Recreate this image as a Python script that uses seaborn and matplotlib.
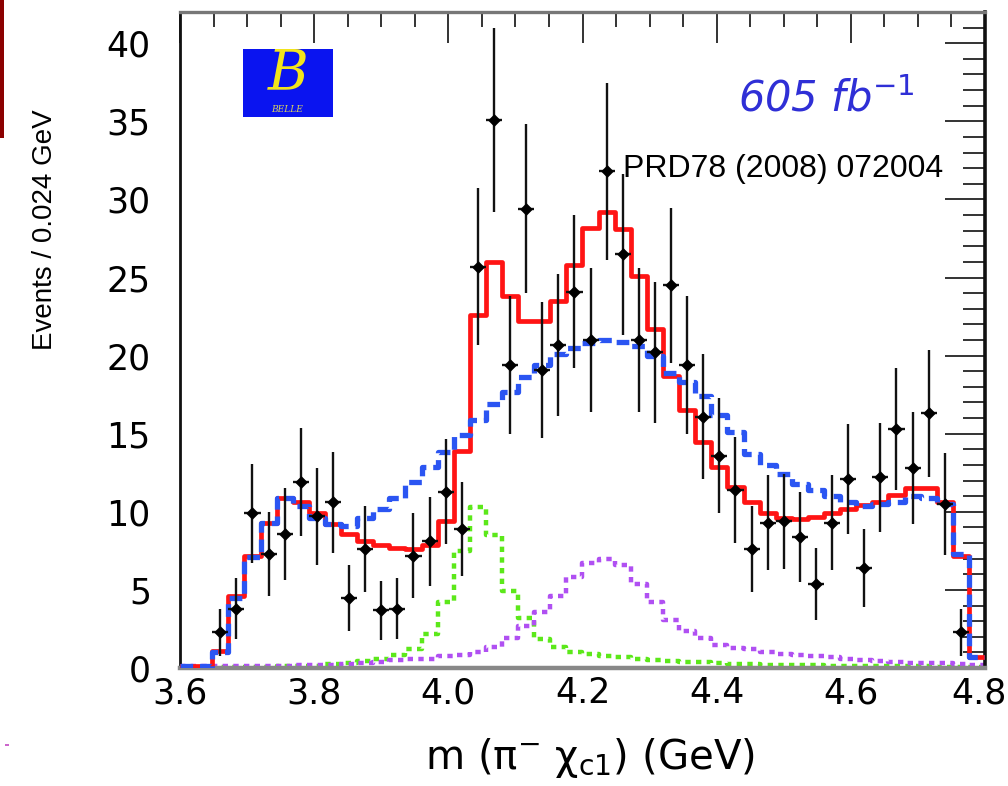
import numpy as np
import pandas as pd
import matplotlib
matplotlib.use("Agg")
import matplotlib.pyplot as plt
import matplotlib.transforms as mtransforms
from matplotlib.ticker import MultipleLocator
from matplotlib.patches import Rectangle
import seaborn as sns

# ------------------------------------------------------------------ data
mass_min = 3.6          # GeV
bin_width = 0.024       # GeV  (Events / 0.024 GeV)
n_bins = 50

nan = np.nan
data_counts = [nan, nan, 2.3, 3.8, 9.9, 7.3, 8.6, 11.9, 9.7, 10.6,
               4.5, 7.6, 3.7, 3.8, 7.2, 8.1, 11.3, 8.9, 25.7, 35.1,
               19.4, 29.4, 19.1, 20.7, 24.1, 21.0, 31.8, 26.5, 21.0, 20.2,
               24.5, 19.4, 16.1, 13.6, 11.4, 7.6, 9.3, 9.4, 8.4, 5.4,
               9.3, 12.1, 6.4, 12.2, 15.3, 12.8, 16.3, 10.5, 2.3, nan]
data_errors = [nan, nan, 1.5, 1.95, 3.15, 2.7, 2.95, 3.45, 3.1, 3.25,
               2.1, 2.75, 1.9, 1.95, 2.7, 2.85, 3.35, 3.0, 5.05, 5.9,
               4.4, 5.4, 4.35, 4.55, 4.9, 4.6, 5.65, 5.15, 4.6, 4.5,
               4.95, 4.4, 4.0, 3.7, 3.4, 2.75, 3.05, 3.05, 2.9, 2.3,
               3.05, 3.5, 2.5, 3.5, 3.9, 3.6, 4.05, 3.25, 1.5, nan]

fit_total = [0.15, 0.15, 1.1, 4.6, 7.2, 9.3, 10.9, 10.6, 9.9, 9.2,
             8.6, 8.1, 7.9, 7.7, 7.6, 7.9, 9.4, 13.9, 22.6, 26.0,
             23.8, 22.2, 22.2, 23.5, 25.8, 28.2, 29.2, 28.1, 25.1, 21.7,
             18.7, 16.5, 14.5, 12.9, 11.6, 10.6, 9.95, 9.6, 9.55, 9.65,
             9.95, 10.15, 10.45, 10.6, 11.05, 11.55, 11.55, 10.6, 7.2, 0.7]

fit_no_z = [0.15, 0.15, 1.0, 4.5, 7.1, 9.3, 10.9, 10.4, 9.6, 9.2,
            9.1, 9.6, 10.2, 10.9, 11.9, 12.9, 13.8, 14.9, 15.9, 16.9,
            17.7, 18.6, 19.4, 20.1, 20.5, 20.8, 21.0, 20.9, 20.6, 20.0,
            18.9, 18.3, 17.4, 16.2, 15.1, 13.7, 13.0, 12.4, 11.8, 11.4,
            11.0, 10.6, 10.4, 10.5, 10.6, 11.0, 10.9, 10.5, 7.3, 0.7]

z1_signal = [0.02, 0.03, 0.04, 0.05, 0.06, 0.08, 0.1, 0.12, 0.16, 0.25,
             0.35, 0.45, 0.6, 0.85, 1.2, 2.2, 4.2, 7.5, 10.3, 8.5,
             4.9, 3.2, 1.85, 1.35, 1.05, 0.9, 0.75, 0.68, 0.6, 0.52,
             0.45, 0.4, 0.36, 0.32, 0.28, 0.25, 0.22, 0.2, 0.18, 0.17,
             0.15, 0.14, 0.13, 0.12, 0.11, 0.1, 0.1, 0.09, 0.08, 0.08]

z2_signal = [0.1, 0.1, 0.12, 0.13, 0.14, 0.15, 0.16, 0.17, 0.18, 0.2,
             0.25, 0.3, 0.4, 0.5, 0.55, 0.6, 0.75, 0.85, 1.0, 1.35,
             1.9, 2.7, 3.6, 4.6, 5.8, 6.7, 7.0, 6.6, 5.4, 4.2,
             3.1, 2.4, 1.9, 1.5, 1.3, 1.2, 1.05, 0.9, 0.85, 0.75,
             0.7, 0.6, 0.5, 0.45, 0.4, 0.35, 0.35, 0.3, 0.25, 0.2]

x_tick_values = [3.6, 3.8, 4.0, 4.2, 4.4, 4.6, 4.8]
x_tick_labels = ["3.6", "3.8", "4.0", "4.2", "4.4", "4.6", "4.8"]
y_tick_values = [0, 5, 10, 15, 20, 25, 30, 35, 40]
y_tick_labels = ["0", "5", "10", "15", "20", "25", "30", "35", "40"]

edges = (mass_min + bin_width * np.arange(n_bins + 1)).tolist()
centers = [0.5 * (a + b) for a, b in zip(edges[:-1], edges[1:])]

df = pd.DataFrame({
    "mass": centers,
    "data": data_counts,
    "err": data_errors,
    "total": fit_total,
    "nores": fit_no_z,
    "z1": z1_signal,
    "z2": z2_signal,
})

# ------------------------------------------------------------------ style
sns.set_style("white")
plt.rcParams["font.family"] = ["DejaVu Sans"]
plt.rcParams["mathtext.fontset"] = "dejavusans"
plt.rcParams["mathtext.default"] = "regular"
for key in ("text.color", "axes.labelcolor", "xtick.color", "ytick.color"):
    plt.rcParams[key] = "black"

W, H = 1008, 786
fig = plt.figure(figsize=(W / 100, H / 100), dpi=100)
ax = fig.add_axes([180 / W, 1 - 668 / H, 805 / W, 656 / H])

# fit components as step histograms (weights = bin content)
sns.histplot(data=df, x="mass", weights="z1", bins=edges, element="step",
             fill=False, color="#5ce81a", linewidth=3.2,
             linestyle=(0, (1.2, 1.2)), ax=ax, zorder=2)
sns.histplot(data=df, x="mass", weights="z2", bins=edges, element="step",
             fill=False, color="#b050f2", linewidth=3.2,
             linestyle=(0, (1.2, 1.2)), ax=ax, zorder=2)
sns.histplot(data=df, x="mass", weights="total", bins=edges, element="step",
             fill=False, color="#ff1414", linewidth=3.4, ax=ax, zorder=3)
sns.histplot(data=df, x="mass", weights="nores", bins=edges, element="step",
             fill=False, color="#2b55f2", linewidth=3.8,
             linestyle=(0, (2.4, 1.3)), ax=ax, zorder=4)

# data points
pts = df.dropna(subset=["data"])
ax.errorbar(pts["mass"], pts["data"], yerr=pts["err"], xerr=bin_width / 2,
            fmt="none", ecolor="#111111", elinewidth=1.7, capsize=0, zorder=5)
sns.scatterplot(data=pts, x="mass", y="data", ax=ax, color="black",
                marker="D", s=42, edgecolor="black", linewidth=0, zorder=6)

# ------------------------------------------------------------------ axes
ax.set_xlim(mass_min, mass_min + n_bins * bin_width)
ax.set_ylim(0, 42)
ax.set_xticks(x_tick_values)
ax.set_xticklabels(x_tick_labels)
ax.set_yticks(y_tick_values)
ax.set_yticklabels(y_tick_labels)
ax.xaxis.set_minor_locator(MultipleLocator(0.05))
ax.yaxis.set_minor_locator(MultipleLocator(1))
ax.tick_params(which="both", direction="in", top=True, right=True,
               color="#333333", labelcolor="black", width=1.4, labelsize=25)
ax.tick_params(axis="y", which="major", length=29, pad=21)
ax.tick_params(axis="y", which="minor", length=15.5)
ax.tick_params(axis="x", which="major", length=22, pad=6)
ax.tick_params(axis="x", which="minor", length=11)

# the last x label sits at the image edge; nudge it slightly inward
last = ax.get_xticklabels()[-1]
last.set_transform(last.get_transform() +
                   mtransforms.ScaledTranslation(-6 / 100, 0, fig.dpi_scale_trans))

for side, col, lw in [("left", "#111111", 2.0), ("right", "#111111", 2.6),
                      ("top", "#777777", 2.4), ("bottom", "#888888", 3.2)]:
    ax.spines[side].set_visible(True)
    ax.spines[side].set_color(col)
    ax.spines[side].set_linewidth(lw)

ax.set_xlabel("m (π$^{-}$ χ$_{c1}$) (GeV)", fontsize=29, va="center",
              ha="center", color="black")
ax.xaxis.set_label_coords(0.509, -0.137)
ax.set_ylabel("Events / 0.024 GeV", fontsize=20, rotation=90, color="black",
              va="center", ha="center", family="Liberation Sans")
ax.yaxis.set_label_coords(-0.168, 0.668)

# ------------------------------------------------------------------ annotations
ax.add_patch(Rectangle((0.0785, 0.8406), 0.1121, 0.1026, transform=ax.transAxes,
                       facecolor="#0a14f0", edgecolor="none", zorder=7))
ax.text(0.134, 0.905, "B", transform=ax.transAxes, ha="center", va="center",
        color="#f2e41c", fontsize=40, family="DejaVu Serif", style="italic",
        zorder=8)
ax.text(0.133, 0.852, "BELLE", transform=ax.transAxes, ha="center", va="center",
        color="#d8d060", fontsize=6.5, family="DejaVu Serif", style="italic",
        zorder=8)
ax.text(0.693, 0.849, "605 fb$^{\\mathit{-1}}$", transform=ax.transAxes,
        ha="left", va="baseline", color="#2f2fd6", fontsize=30,
        style="italic", zorder=8)
ax.text(0.5503, 0.7485, "PRD78 (2008) 072004", transform=ax.transAxes,
        ha="left", va="baseline", color="black", fontsize=23,
        family="Liberation Sans", zorder=8)

# page decorations of the slide
fig.patches.append(Rectangle((0, 1 - 138 / H), 4 / W, 138 / H,
                             transform=fig.transFigure, facecolor="#8b0000",
                             edgecolor="none"))
fig.patches.append(Rectangle((5 / W, 1 - 746 / H), 4 / W, 2 / H,
                             transform=fig.transFigure, facecolor="#cc66cc",
                             edgecolor="none"))

fig.savefig("out.png", dpi=100)
